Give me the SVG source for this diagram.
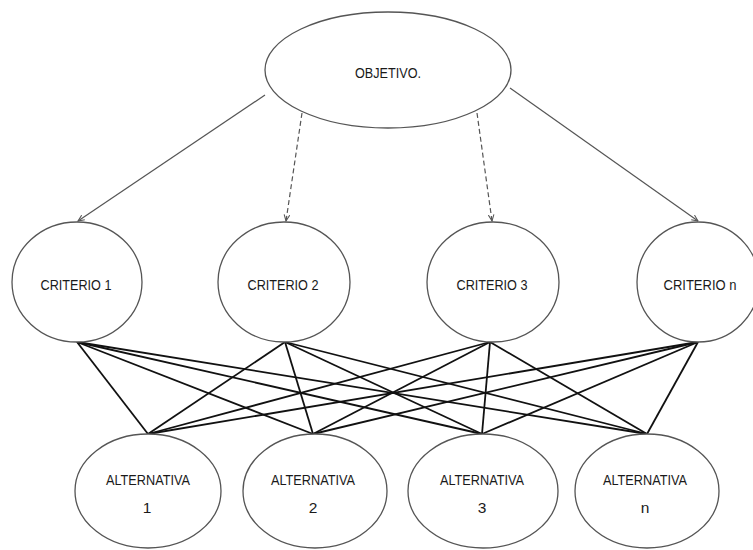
<svg xmlns="http://www.w3.org/2000/svg" width="753" height="550" viewBox="0 0 753 550">
<style>
.node ellipse{fill:#fff;stroke:#555;stroke-width:1.3}
.lbl{font-family:"Liberation Sans Narrow","Liberation Sans",Arial,sans-serif;font-size:15.5px;fill:#1a1a1a;text-anchor:middle}
.arr{stroke:#555;stroke-width:1.2;fill:none;marker-end:url(#ah)}
.dash{stroke-dasharray:5 3}
.cx{stroke:#111;stroke-width:1.8}
</style>
<defs>
<marker id="ah" viewBox="0 0 10 10" refX="9" refY="5" markerWidth="7" markerHeight="7" orient="auto" markerUnits="userSpaceOnUse">
<path d="M0,1 L9,5 L0,9" fill="none" stroke="#555" stroke-width="1.5"/>
</marker>
</defs>
<rect width="753" height="550" fill="#fff"/>
<g id="connectors">
<line class="arr" x1="265" y1="95" x2="78" y2="221"/>
<line class="arr dash" x1="302" y1="113" x2="286" y2="221"/>
<line class="arr dash" x1="477" y1="113" x2="492" y2="221"/>
<line class="arr" x1="510" y1="88" x2="698" y2="221"/>
<g class="cx">
<line x1="77" y1="342" x2="148" y2="434"/>
<line x1="77" y1="342" x2="313" y2="434"/>
<line x1="77" y1="342" x2="482" y2="434"/>
<line x1="77" y1="342" x2="647" y2="434"/>
<line x1="285" y1="342" x2="148" y2="434"/>
<line x1="285" y1="342" x2="313" y2="434"/>
<line x1="285" y1="342" x2="482" y2="434"/>
<line x1="285" y1="342" x2="647" y2="434"/>
<line x1="490" y1="342" x2="148" y2="434"/>
<line x1="490" y1="342" x2="313" y2="434"/>
<line x1="490" y1="342" x2="482" y2="434"/>
<line x1="490" y1="342" x2="647" y2="434"/>
<line x1="698" y1="342" x2="148" y2="434"/>
<line x1="698" y1="342" x2="313" y2="434"/>
<line x1="698" y1="342" x2="482" y2="434"/>
<line x1="698" y1="342" x2="647" y2="434"/>
</g>
</g>
<g id="objetivo" class="node">
<ellipse cx="388" cy="70" rx="123" ry="58"/>
<text class="lbl" x="388" y="78" textLength="66" lengthAdjust="spacingAndGlyphs">OBJETIVO.</text>
</g>
<g id="criterio1" class="node">
<ellipse cx="77" cy="282" rx="65" ry="60"/>
<text class="lbl" x="76" y="290" textLength="71" lengthAdjust="spacingAndGlyphs">CRITERIO 1</text>
</g>
<g id="criterio2" class="node">
<ellipse cx="284" cy="282" rx="66" ry="60"/>
<text class="lbl" x="283" y="290" textLength="71" lengthAdjust="spacingAndGlyphs">CRITERIO 2</text>
</g>
<g id="criterio3" class="node">
<ellipse cx="493" cy="282" rx="66" ry="60"/>
<text class="lbl" x="492" y="290" textLength="71" lengthAdjust="spacingAndGlyphs">CRITERIO 3</text>
</g>
<g id="criterion" class="node">
<ellipse cx="698" cy="282" rx="61" ry="60"/>
<text class="lbl" x="700" y="290" textLength="73" lengthAdjust="spacingAndGlyphs">CRITERIO n</text>
</g>
<g id="alt1" class="node">
<ellipse cx="148" cy="491" rx="73" ry="57"/>
<text class="lbl" x="148" y="485" textLength="84" lengthAdjust="spacingAndGlyphs">ALTERNATIVA</text>
<text class="lbl" x="147" y="513">1</text>
</g>
<g id="alt2" class="node">
<ellipse cx="315" cy="491" rx="72" ry="57"/>
<text class="lbl" x="313" y="485" textLength="84" lengthAdjust="spacingAndGlyphs">ALTERNATIVA</text>
<text class="lbl" x="313" y="513">2</text>
</g>
<g id="alt3" class="node">
<ellipse cx="483" cy="491" rx="75" ry="57"/>
<text class="lbl" x="482" y="485" textLength="84" lengthAdjust="spacingAndGlyphs">ALTERNATIVA</text>
<text class="lbl" x="482" y="513">3</text>
</g>
<g id="altn" class="node">
<ellipse cx="647" cy="491" rx="72" ry="57"/>
<text class="lbl" x="645" y="485" textLength="84" lengthAdjust="spacingAndGlyphs">ALTERNATIVA</text>
<text class="lbl" x="645" y="513">n</text>
</g>
</svg>
